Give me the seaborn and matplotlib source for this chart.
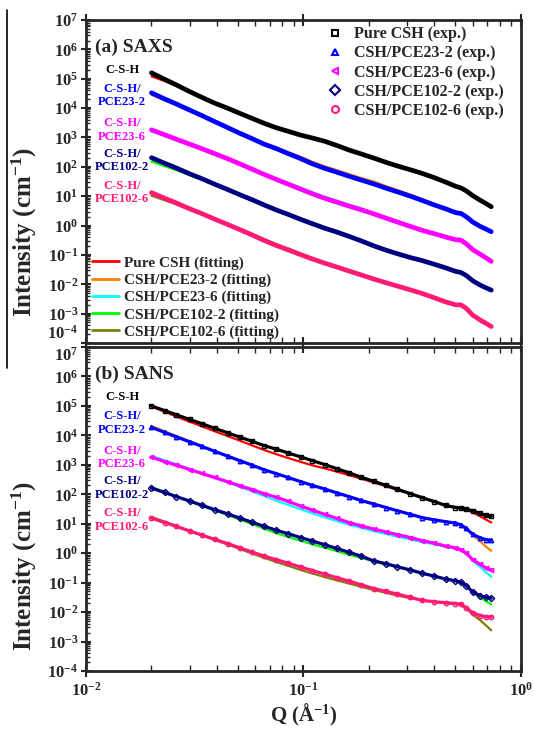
import numpy as np
import seaborn as sns
import matplotlib
matplotlib.use('Agg')
import matplotlib.pyplot as plt
from matplotlib.lines import Line2D
from matplotlib.ticker import FixedLocator, LogLocator, NullFormatter

# scattering vector Q (1/A), shared by both panels
q = [0.020, 0.023, 0.026, 0.030, 0.034, 0.039, 0.045, 0.051, 0.058, 0.066,
     0.075, 0.085, 0.097, 0.110, 0.125, 0.142, 0.162, 0.184, 0.210, 0.240,
     0.270, 0.310, 0.350, 0.400, 0.450, 0.500, 0.530, 0.560, 0.600, 0.650,
     0.690, 0.730]

# log10 intensity, SAXS experiment
saxs_csh     = [5.20, 4.98, 4.79, 4.56, 4.37, 4.17, 3.99, 3.82, 3.65, 3.48, 3.33, 3.21, 3.08, 2.98, 2.87, 2.73,
                2.57, 2.44, 2.30, 2.15, 2.03, 1.90, 1.78, 1.63, 1.48, 1.34, 1.28, 1.18, 1.02, 0.86, 0.75, 0.64]
saxs_pce23_2 = [4.52, 4.31, 4.14, 3.93, 3.75, 3.54, 3.33, 3.14, 2.96, 2.77, 2.62, 2.45, 2.28, 2.10, 1.95, 1.82,
                1.68, 1.55, 1.42, 1.27, 1.15, 1.00, 0.86, 0.70, 0.57, 0.44, 0.41, 0.30, 0.12, -0.03, -0.12, -0.21]
saxs_pce23_6 = [3.26, 3.09, 2.94, 2.77, 2.62, 2.45, 2.27, 2.10, 1.92, 1.74, 1.57, 1.41, 1.24, 1.08, 0.93, 0.80,
                0.66, 0.54, 0.40, 0.25, 0.12, -0.03, -0.16, -0.28, -0.39, -0.48, -0.50, -0.62, -0.82, -0.98, -1.10, -1.22]
saxs_pce102_2 = [2.31, 2.12, 1.96, 1.76, 1.60, 1.41, 1.22, 1.05, 0.88, 0.70, 0.53, 0.38, 0.21, 0.06, -0.09, -0.22,
                 -0.37, -0.52, -0.69, -0.84, -0.96, -1.09, -1.19, -1.32, -1.44, -1.56, -1.60, -1.70, -1.88, -2.03, -2.12, -2.20]
saxs_pce102_6 = [1.12, 0.93, 0.77, 0.57, 0.41, 0.22, 0.03, -0.14, -0.32, -0.51, -0.68, -0.83, -0.99, -1.14, -1.28, -1.41,
                 -1.55, -1.68, -1.82, -1.95, -2.06, -2.19, -2.31, -2.46, -2.60, -2.70, -2.70, -2.82, -3.05, -3.22, -3.33, -3.44]

# log10 intensity, SAXS fitting
saxs_fit_csh     = [5.08, 4.92, 4.76, 4.55, 4.37, 4.17, 3.99, 3.82, 3.66, 3.50, 3.35, 3.22, 3.09, 2.98, 2.87, 2.73,
                    2.57, 2.44, 2.30, 2.15, 2.03, 1.90, 1.78, 1.63, 1.48, 1.34, 1.29, 1.18, 1.02, 0.86, 0.75, 0.64]
saxs_fit_pce23_2 = [4.45, 4.27, 4.12, 3.93, 3.75, 3.55, 3.34, 3.16, 2.98, 2.80, 2.66, 2.50, 2.34, 2.17, 2.02, 1.89,
                    1.75, 1.62, 1.50, 1.34, 1.21, 1.05, 0.90, 0.73, 0.59, 0.47, 0.44, 0.32, 0.13, -0.02, -0.11, -0.20]
saxs_fit_pce23_6 = [3.20, 3.06, 2.92, 2.76, 2.61, 2.45, 2.27, 2.10, 1.93, 1.76, 1.60, 1.45, 1.29, 1.13, 0.98, 0.85,
                    0.71, 0.58, 0.43, 0.27, 0.14, -0.02, -0.15, -0.27, -0.38, -0.47, -0.49, -0.61, -0.81, -0.97, -1.09, -1.21]
saxs_fit_pce102_2 = [2.18, 2.02, 1.89, 1.72, 1.57, 1.39, 1.21, 1.04, 0.88, 0.71, 0.54, 0.41, 0.25, 0.10, -0.05, -0.19,
                     -0.34, -0.50, -0.68, -0.83, -0.95, -1.08, -1.19, -1.31, -1.43, -1.55, -1.59, -1.69, -1.87, -2.02, -2.11, -2.19]
saxs_fit_pce102_6 = [1.02, 0.86, 0.72, 0.54, 0.39, 0.21, 0.03, -0.12, -0.28, -0.46, -0.63, -0.78, -0.95, -1.11, -1.26, -1.40,
                     -1.54, -1.67, -1.81, -1.94, -2.05, -2.18, -2.30, -2.45, -2.59, -2.69, -2.69, -2.81, -3.04, -3.21, -3.32, -3.43]

# log10 intensity, SANS experiment
sans_csh     = [5.00, 4.84, 4.70, 4.54, 4.40, 4.24, 4.08, 3.94, 3.80, 3.65, 3.53, 3.40, 3.27, 3.14, 3.01, 2.87,
                2.73, 2.58, 2.44, 2.30, 2.17, 2.02, 1.89, 1.75, 1.62, 1.55, 1.53, 1.50, 1.44, 1.35, 1.28, 1.25]
sans_pce23_2 = [4.27, 4.10, 3.95, 3.78, 3.63, 3.46, 3.29, 3.14, 2.99, 2.83, 2.70, 2.57, 2.43, 2.30, 2.18, 2.05,
                1.92, 1.79, 1.67, 1.55, 1.44, 1.32, 1.21, 1.13, 1.07, 1.02, 0.96, 0.84, 0.64, 0.52, 0.46, 0.44]
sans_pce23_6 = [3.26, 3.11, 2.99, 2.84, 2.71, 2.57, 2.42, 2.29, 2.16, 2.02, 1.90, 1.76, 1.60, 1.46, 1.32, 1.18,
                1.04, 0.93, 0.82, 0.72, 0.63, 0.53, 0.43, 0.34, 0.24, 0.18, 0.12, 0.00, -0.22, -0.38, -0.50, -0.57]
sans_pce102_2 = [2.21, 2.06, 1.92, 1.77, 1.63, 1.48, 1.33, 1.19, 1.05, 0.91, 0.78, 0.66, 0.53, 0.41, 0.29, 0.16,
                 0.03, -0.10, -0.26, -0.36, -0.46, -0.57, -0.68, -0.78, -0.88, -0.94, -0.99, -1.10, -1.32, -1.44, -1.50, -1.53]
sans_pce102_6 = [1.19, 1.04, 0.91, 0.75, 0.62, 0.47, 0.32, 0.18, 0.04, -0.10, -0.22, -0.34, -0.47, -0.59, -0.71, -0.83,
                 -0.95, -1.07, -1.20, -1.30, -1.39, -1.50, -1.60, -1.65, -1.68, -1.71, -1.74, -1.85, -2.03, -2.12, -2.16, -2.17]

# log10 intensity, SANS fitting
sans_fit_csh     = [4.98, 4.80, 4.64, 4.46, 4.31, 4.14, 3.97, 3.82, 3.66, 3.50, 3.36, 3.23, 3.10, 2.98, 2.88, 2.77,
                    2.65, 2.53, 2.40, 2.27, 2.15, 2.01, 1.88, 1.75, 1.63, 1.56, 1.52, 1.47, 1.38, 1.25, 1.14, 1.04]
sans_fit_pce23_2 = [4.32, 4.14, 3.98, 3.80, 3.64, 3.46, 3.29, 3.14, 2.99, 2.83, 2.70, 2.57, 2.43, 2.30, 2.18, 2.05,
                    1.92, 1.79, 1.67, 1.55, 1.44, 1.32, 1.21, 1.13, 1.07, 1.02, 0.96, 0.83, 0.62, 0.40, 0.22, 0.08]
sans_fit_pce23_6 = [3.30, 3.15, 3.02, 2.86, 2.72, 2.56, 2.40, 2.25, 2.10, 1.94, 1.78, 1.64, 1.49, 1.35, 1.22, 1.09,
                    0.97, 0.86, 0.75, 0.65, 0.56, 0.47, 0.38, 0.30, 0.22, 0.17, 0.11, -0.02, -0.25, -0.47, -0.65, -0.80]
sans_fit_pce102_2 = [2.25, 2.08, 1.93, 1.76, 1.61, 1.45, 1.29, 1.14, 0.99, 0.83, 0.68, 0.55, 0.42, 0.30, 0.19, 0.07,
                     -0.05, -0.16, -0.28, -0.39, -0.48, -0.58, -0.68, -0.78, -0.87, -0.93, -0.98, -1.10, -1.33, -1.50, -1.63, -1.74]
sans_fit_pce102_6 = [1.23, 1.07, 0.93, 0.76, 0.61, 0.45, 0.29, 0.14, -0.01, -0.16, -0.30, -0.43, -0.57, -0.69, -0.81, -0.92,
                     -1.03, -1.14, -1.25, -1.35, -1.44, -1.53, -1.60, -1.66, -1.70, -1.73, -1.76, -1.88, -2.08, -2.28, -2.45, -2.62]

exp_names = ['Pure CSH (exp.)', 'CSH/PCE23-2 (exp.)', 'CSH/PCE23-6 (exp.)',
             'CSH/PCE102-2 (exp.)', 'CSH/PCE102-6 (exp.)']
fit_names = ['Pure CSH (fitting)', 'CSH/PCE23-2 (fitting)', 'CSH/PCE23-6 (fitting)',
             'CSH/PCE102-2 (fitting)', 'CSH/PCE102-6 (fitting)']
side_labels = ['C-S-H', 'C-S-H/\nPCE23-2', 'C-S-H/\nPCE23-6', 'C-S-H/\nPCE102-2', 'C-S-H/\nPCE102-6']
y_decades = [-4, -3, -2, -1, 0, 1, 2, 3, 4, 5, 6, 7]

exp_colors = ['#000000', '#0000ff', '#ff00ff', '#000080', '#ff1a75']
fit_colors = ['#ff0000', '#ff8000', '#00ffff', '#00ff00', '#808000']
markers = ['s', '^', '<', 'D', 'o']

sns.set_style('ticks')
plt.rcParams['font.family'] = ['Liberation Serif', 'DejaVu Serif']
plt.rcParams['font.weight'] = 'bold'
plt.rcParams['mathtext.fontset'] = 'custom'
for k in ['rm', 'it', 'bf', 'sf']:
  plt.rcParams['mathtext.' + k] = 'Liberation Serif:bold'
plt.rcParams['axes.linewidth'] = 2.0

fig = plt.figure(figsize=(5.34, 7.29), dpi=100)
ax1 = fig.add_axes([0.161, 0.5295, 0.8146, 0.4431])
ax2 = fig.add_axes([0.161, 0.0796, 0.8146, 0.4444])


def draw(ax, exp_sets, fit_sets, dense):
  for i in range(5):
    sns.lineplot(x=q, y=np.power(10.0, fit_sets[i]), ax=ax, color=fit_colors[i],
                 lw=1.6, sort=False, legend=False, zorder=2)
  for i in range(5):
    if dense:
      sns.lineplot(x=q, y=np.power(10.0, exp_sets[i]), ax=ax, color=exp_colors[i],
                   lw=3.4, sort=False, legend=False, zorder=3)
    else:
      sns.lineplot(x=q, y=np.power(10.0, exp_sets[i]), ax=ax, color=exp_colors[i],
                   lw=2.3, sort=False, legend=False, zorder=3,
                   marker=markers[i], markersize=3.2, markerfacecolor='none',
                   markeredgecolor=exp_colors[i], markeredgewidth=1.0)
  ax.set_xscale('log')
  ax.set_yscale('log')
  ax.set_xlim(0.01, 1)
  ax.set_ylim(1e-4, 1e7)
  ax.yaxis.set_major_locator(FixedLocator(np.power(10.0, y_decades)))
  ax.yaxis.set_minor_locator(LogLocator(base=10, subs=np.arange(2, 10), numticks=20))
  ax.yaxis.set_minor_formatter(NullFormatter())
  ax.xaxis.set_minor_formatter(NullFormatter())
  ax.tick_params(axis='y', which='major', direction='inout', length=7, width=1.5,
                 labelsize=12, right=False, pad=2)
  ax.tick_params(axis='y', which='minor', direction='in', length=3, width=1, right=False)
  ax.tick_params(axis='x', which='major', direction='inout', length=8, width=1.5,
                 labelsize=12, top=True)
  ax.tick_params(axis='x', which='minor', direction='in', length=4, width=1, top=True)
  ax.set_ylabel('Intensity (cm$^{-1}$)', fontsize=18, fontweight='bold')
  ax.set_xlabel('')
  ypos = [0.845, 0.766, 0.659, 0.565, 0.466]
  for lab, c, yy in zip(side_labels, exp_colors, ypos):
    ax.text(0.083, yy, lab, transform=ax.transAxes, color=c, fontsize=9,
            fontweight='bold', ha='center', va='center', linespacing=1.2)


draw(ax1, [saxs_csh, saxs_pce23_2, saxs_pce23_6, saxs_pce102_2, saxs_pce102_6],
     [saxs_fit_csh, saxs_fit_pce23_2, saxs_fit_pce23_6, saxs_fit_pce102_2, saxs_fit_pce102_6],
     True)
draw(ax2, [sans_csh, sans_pce23_2, sans_pce23_6, sans_pce102_2, sans_pce102_6],
     [sans_fit_csh, sans_fit_pce23_2, sans_fit_pce23_6, sans_fit_pce102_2, sans_fit_pce102_6],
     False)

ax1.tick_params(axis='x', labelbottom=False)
ax1.yaxis.set_label_coords(-0.108, 0.344)
ax2.yaxis.set_label_coords(-0.108, 0.324)
ax2.set_xlabel('Q (Å$^{-1}$)', fontsize=15, fontweight='bold', labelpad=2)

# the two panels meet: keep 10^-4 (top) and 10^7 (bottom) apart
ax1.yaxis.get_major_ticks()[0].label1.set_va('bottom')
ax2.yaxis.get_major_ticks()[-1].label1.set_va('top')

ax1.text(0.02, 0.9, '(a) SAXS', transform=ax1.transAxes, fontsize=14, fontweight='bold')
ax2.text(0.02, 0.9, '(b) SANS', transform=ax2.transAxes, fontsize=14, fontweight='bold')

# legends (top panel only)
exp_handles = [Line2D([], [], ls='none', marker=m, ms=5, mfc='none', mec=c, mew=1.5)
               for m, c in zip(markers, exp_colors)]
leg1 = ax1.legend(exp_handles, exp_names, loc='upper left', bbox_to_anchor=(0.52, 1.025),
                  frameon=False, fontsize=11.5, handlelength=1.0, handletextpad=0.7,
                  labelspacing=0.2, borderpad=0.4)
ax1.add_artist(leg1)
fit_handles = [Line2D([], [], color=c, lw=2) for c in fit_colors]
ax1.legend(fit_handles, fit_names, loc='lower left', bbox_to_anchor=(-0.015, -0.025),
           frameon=False, fontsize=11, handlelength=1.8, handletextpad=0.3,
           labelspacing=0.22, borderpad=0.3)

# stray rule at the left edge of the original
fig.add_artist(Line2D([0.013, 0.013], [1 - 10 / 729, 1 - 368 / 729], color='k', lw=1.2))

fig.savefig('out.png', dpi=100)
